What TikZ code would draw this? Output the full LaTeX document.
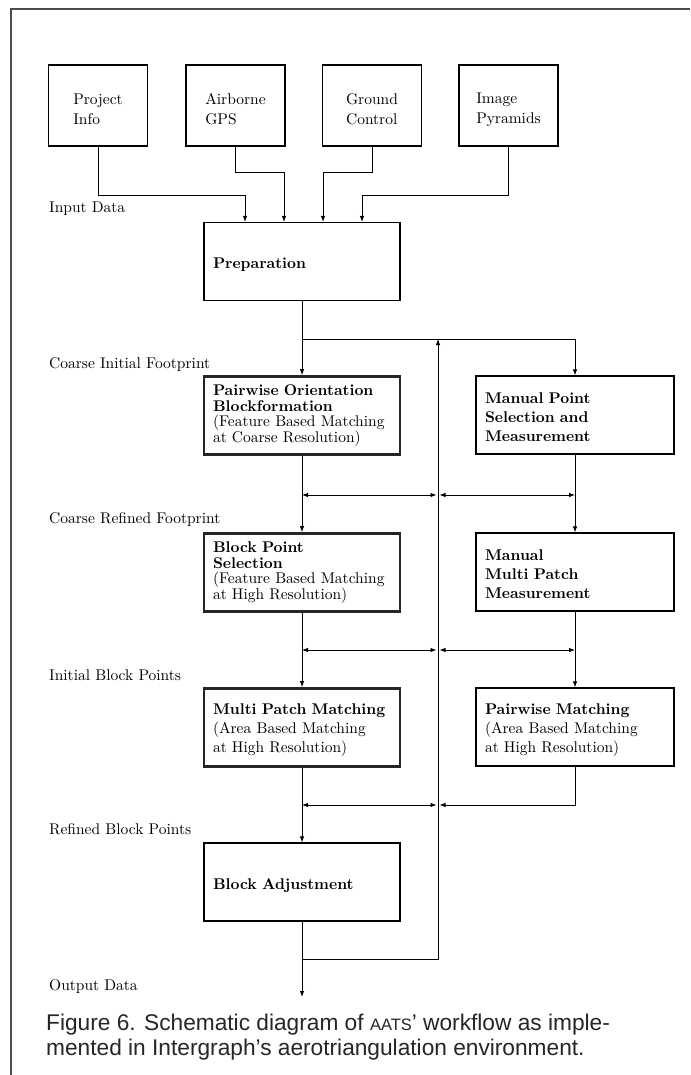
\documentclass[tikz,border=0pt]{standalone}
\usepackage{fontspec}
\setmainfont{lmroman10-regular.otf}[BoldFont=lmroman10-bold.otf, ItalicFont=lmroman10-italic.otf]
\newfontfamily\capfont{Liberation Sans}
\usetikzlibrary{arrows.meta,calc}
\begin{document}
\begin{tikzpicture}[x=1pt,y=-1pt,
  every node/.style={font=\fontsize{15.5}{19}\selectfont},
  topbox/.style={draw, line width=1.1pt, align=left, inner sep=0pt,
    minimum width=99pt, minimum height=81pt, font=\fontsize{15.5}{20}\selectfont},
  lbox/.style={draw, line width=1.1pt, align=left, text width=178pt, inner xsep=9pt,
    inner ysep=0pt, minimum height=78pt},
  thickbox/.style={lbox, line width=2.6pt, draw=black!85},
  rbox/.style={draw, line width=1.1pt, align=left, text width=180pt, inner xsep=9pt,
    inner ysep=0pt, minimum height=78pt},
  tight/.style={font=\fontsize{15.5}{15.5}\selectfont},
  lab/.style={anchor=base west, inner sep=0pt},
  conn/.style={line width=0.9pt},
  arr/.style={conn, -{Latex[length=6pt,width=4.5pt]}},
  darr/.style={conn, {Latex[length=6pt,width=4.5pt]}-{Latex[length=6pt,width=4.5pt]}},
  frame/.style={line width=1.4pt, draw=black!70},
  captext/.style={anchor=base west, inner sep=0pt, text=black!85,
    font=\capfont\fontsize{22.7}{25}\selectfont}
]
\useasboundingbox (0,0) rectangle (690,1075);
\fill[white] (0,0) rectangle (690,1075);
\draw[frame] (11,1075) -- (11,9) -- (690,9);

% input boxes
\node[topbox] (pi) at (98,105.5) {\rule{0pt}{19pt}Project\\Info};
\node[topbox] (ag) at (235.5,105.5) {\rule{0pt}{19pt}Airborne\\GPS};
\node[topbox] (gc) at (372,105.5) {\rule{0pt}{19pt}Ground\\Control};
\node[topbox] (ip) at (508.5,105.5) {\rule{0pt}{19pt}Image\\Pyramids};

% main column
\node[lbox] (prep) at (302,261.5) {\rule{0pt}{18pt}\textbf{Preparation}};
\node[thickbox, tight] (r1l) at (302,415.5) {\textbf{Pairwise Orientation}\\\textbf{Blockformation}\\(Feature Based Matching\\at Coarse Resolution)};
\node[thickbox, tight] (r2l) at (302,572.5) {\textbf{Block Point}\\\textbf{Selection}\\(Feature Based Matching\\at High Resolution)};
\node[thickbox] (r3l) at (302,727.5) {\rule{0pt}{16pt}\textbf{Multi Patch Matching}\\(Area Based Matching\\at High Resolution)};
\node[lbox] (ba) at (302,882) {\rule{0pt}{18pt}\textbf{Block Adjustment}};

% right column
\node[rbox] (r1r) at (575,415) {\rule{0pt}{16pt}\textbf{Manual Point}\\\textbf{Selection and}\\\textbf{Measurement}};
\node[rbox] (r2r) at (575,572) {\rule{0pt}{16pt}\textbf{Manual}\\\textbf{Multi Patch}\\\textbf{Measurement}};
\node[rbox] (r3r) at (575,727) {\rule{0pt}{16pt}\textbf{Pairwise Matching}\\(Area Based Matching\\at High Resolution)};

% labels
\node[lab] (l1) at (49,213) {Input Data};
\node[lab] (l2) at (49,368) {Coarse Initial Footprint};
\node[lab] (l3) at (49,523) {Coarse Refined Footprint};
\node[lab] (l4) at (49,680) {Initial Block Points};
\node[lab] (l5) at (49,834) {Refined Block Points};
\node[lab] (l6) at (49,990) {Output Data};

% junction coordinates
\coordinate (c1) at (245,195);
\coordinate (c2) at (284,172);
\coordinate (c3) at (323,172);
\coordinate (c4) at (362,195);
\coordinate (s1) at (302,339);
\coordinate (fbt) at (438,339);
\coordinate (fbb) at (438,959);
\coordinate (h1) at (438,495);
\coordinate (h2) at (438,650);
\coordinate (h3) at (438,805);
\coordinate (out) at (302,997);

% input connectors
\draw[arr] (pi.south) |- (c1) -- (c1 |- prep.north);
\draw[arr] (ag.south) |- (c2) -- (c2 |- prep.north);
\draw[arr] (gc.south) |- (c3) -- (c3 |- prep.north);
\draw[arr] (ip.south) |- (c4) -- (c4 |- prep.north);

% main flow
\draw[arr] (prep.south) -- (r1l.north);
\draw[arr] (s1) -| (r1r.north);
\draw[arr] (r1l.south) -- (r2l.north);
\draw[arr] (r1r.south) -- (r2r.north);
\draw[arr] (r2l.south) -- (r3l.north);
\draw[arr] (r2r.south) -- (r3r.north);
\draw[arr] (r3l.south) -- (ba.north);
\draw[arr] (ba.south) -- (out);

% feedback line
\draw[arr] (ba.south |- fbb) -- (fbb) -- (fbt);

% cross connections
\draw[darr] (r1l.south |- h1) -- ($(h1)+(-1.5,0)$);
\draw[darr] ($(h1)+(1.5,0)$) -- (r1r.south |- h1);
\draw[darr] (r2l.south |- h2) -- ($(h2)+(-1.5,0)$);
\draw[darr] ($(h2)+(1.5,0)$) -- (r2r.south |- h2);
\draw[darr] (r3l.south |- h3) -- ($(h3)+(-1.5,0)$);
\draw[arr] (r3r.south) |- ($(h3)+(1.5,0)$);

% caption
\node[captext] (cap1) at (46,1030) {Figure 6. Schematic diagram of {\fontsize{16.5}{25}\selectfont AATS}’ workflow as imple-};
\node[captext] (cap2) at (46,1055) {mented in Intergraph’s aerotriangulation environment.};
\end{tikzpicture}
\end{document}
